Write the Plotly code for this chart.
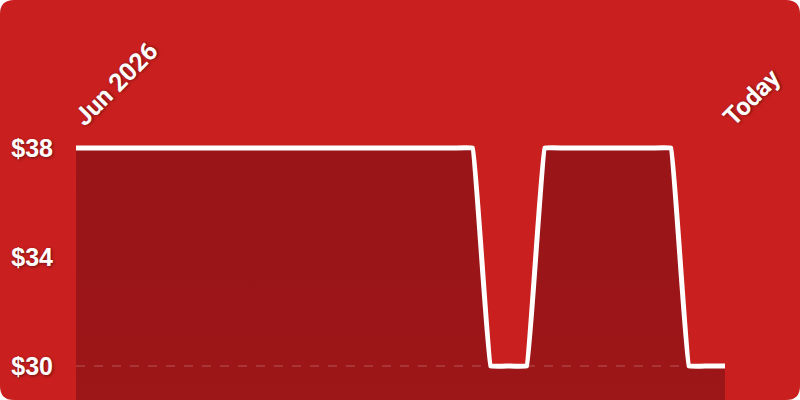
import plotly.graph_objects as go

# daily price points, Jun 2026 -> today
days = list(range(37))
prices = [38] * 23 + [30, 30, 30] + [38] * 8 + [30, 30, 30]
x_ticks = [0, 36]
x_labels = ["Jun 2026", "Today"]
y_ticks = [30, 34, 38]
y_labels = ["$30", "$34", "$38"]

BG = "#c91f1f"
W, H = 800, 400
ML, MR, MT, MB = 76, 75, 141, 0
pw, ph = W - ML - MR, H - MT - MB

shadow = "1px 1px 3px rgba(0,0,0,0.45)"

fig = go.Figure()
fig.add_trace(go.Scatter(
    x=days, y=prices, mode="lines",
    line=dict(color="white", width=5, shape="spline", smoothing=0.15),
    fill="tozeroy",
    fillgradient=dict(type="vertical",
                      colorscale=[[0, "#a81a1a"], [1, "#991518"]]),
    hoverinfo="skip", showlegend=False,
))

# rounded card behind everything (paper coords are relative to plot area)
x0, x1 = -ML / pw, 1 + MR / pw
y0, y1 = -MB / ph, 1 + MT / ph
rx, ry = 14 / pw, 14 / ph
path = (f"M {x0+rx},{y1} L {x1-rx},{y1} Q {x1},{y1} {x1},{y1-ry} "
        f"L {x1},{y0+ry} Q {x1},{y0} {x1-rx},{y0} L {x0+rx},{y0} "
        f"Q {x0},{y0} {x0},{y0+ry} L {x0},{y1-ry} Q {x0},{y1} {x0+rx},{y1} Z")
fig.add_shape(type="path", path=path, xref="paper", yref="paper",
              fillcolor=BG, line_width=0, layer="below")

# dashed baseline at $30
fig.add_shape(type="line", xref="paper", x0=0, x1=1, yref="y", y0=30, y1=30,
              line=dict(color="rgba(255,255,255,0.18)", width=1.5, dash="dash"),
              layer="above")

fig.update_layout(
    width=W, height=H,
    margin=dict(l=ML, r=MR, t=MT, b=MB),
    paper_bgcolor="white", plot_bgcolor="rgba(0,0,0,0)",
    xaxis=dict(range=[0, 36], side="top", tickvals=x_ticks, ticktext=x_labels,
               tickangle=-45, showgrid=False, zeroline=False, showline=False,
               ticks="", ticklabelstandoff=4,
               tickfont=dict(family="Roboto", size=25, color="white",
                             weight="bold", shadow=shadow)),
    yaxis=dict(range=[28.75, 38.26], tickvals=y_ticks, ticktext=y_labels,
               showgrid=False, zeroline=False, showline=False, ticks="",
               ticklabelstandoff=22,
               tickfont=dict(family="Liberation Sans", size=25, color="white",
                             weight="bold", shadow=shadow)),
)

fig.write_html("out.html", config={"displayModeBar": False},
               post_script="document.body.style.margin='0';")
